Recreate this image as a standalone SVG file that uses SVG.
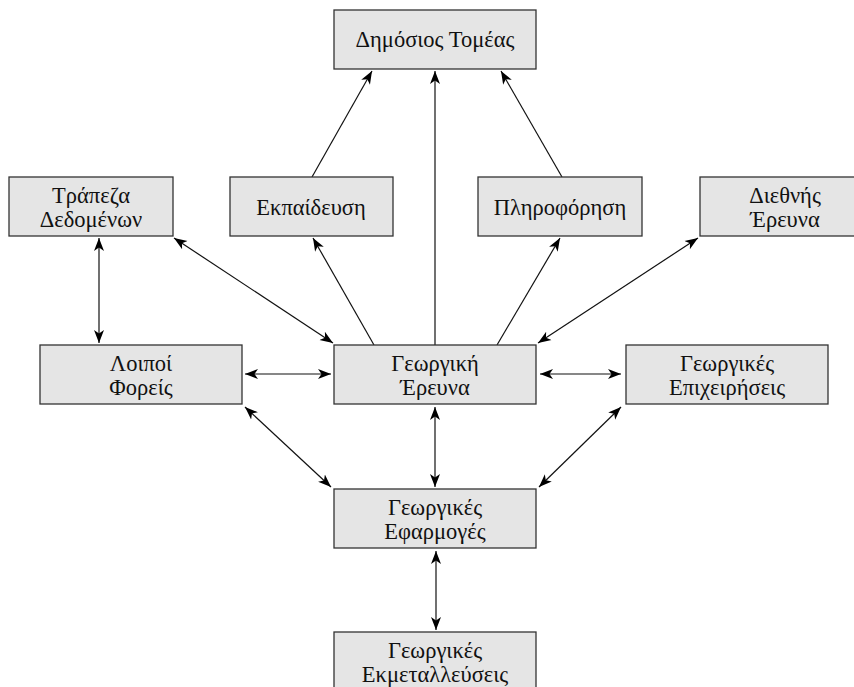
<svg xmlns="http://www.w3.org/2000/svg" width="854" height="687" viewBox="0 0 854 687">
<style>
.box{fill:#e5e5e5;stroke:#333;stroke-width:1.3}
.t{font-family:"Liberation Serif","DejaVu Serif",serif;font-size:22.5px;fill:#111;text-anchor:middle}
.c line{stroke:#111;stroke-width:1.2;fill:none}
.one{marker-end:url(#ah)}
.two{marker-end:url(#ah);marker-start:url(#ah)}
</style>
<defs>
<marker id="ah" viewBox="-13 -6 14 12" refX="0" refY="0" markerWidth="14" markerHeight="12" markerUnits="userSpaceOnUse" orient="auto-start-reverse">
<path d="M0,0 L-13,-5 L-9.5,0 L-13,5 Z" fill="#000"/>
</marker>
</defs>
<rect width="854" height="687" fill="#fff"/>
<g class="c">
<line class="one" x1="312" y1="177" x2="372" y2="71"/>
<line class="one" x1="435" y1="345" x2="435" y2="71"/>
<line class="one" x1="562" y1="177" x2="501" y2="71"/>
<line class="one" x1="374" y1="345" x2="313" y2="238"/>
<line class="one" x1="497" y1="345" x2="560" y2="238"/>
<line class="two" x1="333" y1="343" x2="174" y2="238"/>
<line class="two" x1="538" y1="343" x2="698" y2="238"/>
<line class="two" x1="99" y1="343" x2="99" y2="238"/>
<line class="two" x1="245" y1="374" x2="331" y2="374"/>
<line class="two" x1="540" y1="374" x2="621" y2="374"/>
<line class="two" x1="245" y1="407" x2="331" y2="487"/>
<line class="two" x1="621" y1="407" x2="539" y2="487"/>
<line class="two" x1="435" y1="407" x2="435" y2="487"/>
<line class="two" x1="436" y1="551" x2="436" y2="630"/>
</g>
<g id="dimosios"><rect class="box" x="334" y="10" width="202" height="59"/><text class="t" x="435" y="47">Δημόσιος Τομέας</text></g>
<g id="trapeza"><rect class="box" x="9" y="177" width="164" height="59"/><text class="t" x="91" y="203">Τράπεζα</text><text class="t" x="91" y="227">Δεδομένων</text></g>
<g id="ekpaideusi"><rect class="box" x="230" y="177" width="163" height="59"/><text class="t" x="311" y="215">Εκπαίδευση</text></g>
<g id="pliroforisi"><rect class="box" x="478" y="177" width="164" height="59"/><text class="t" x="560" y="215">Πληροφόρηση</text></g>
<g id="diethnis"><rect class="box" x="700" y="177" width="164" height="59"/><text class="t" x="785" y="203">Διεθνής</text><text class="t" x="785" y="227">Έρευνα</text></g>
<g id="loipoi"><rect class="box" x="40" y="345" width="202" height="59"/><text class="t" x="141" y="371">Λοιποί</text><text class="t" x="141" y="395">Φορείς</text></g>
<g id="ereuna"><rect class="box" x="334" y="345" width="202" height="59"/><text class="t" x="435" y="371">Γεωργική</text><text class="t" x="435" y="395">Έρευνα</text></g>
<g id="epixeiriseis"><rect class="box" x="626" y="345" width="202" height="59"/><text class="t" x="727" y="371">Γεωργικές</text><text class="t" x="727" y="395">Επιχειρήσεις</text></g>
<g id="efarmoges"><rect class="box" x="334" y="489" width="202" height="59"/><text class="t" x="435" y="515">Γεωργικές</text><text class="t" x="435" y="539">Εφαρμογές</text></g>
<g id="ekmetalleuseis"><rect class="box" x="334" y="632" width="202" height="59"/><text class="t" x="435" y="658">Γεωργικές</text><text class="t" x="435" y="682">Εκμεταλλεύσεις</text></g>
</svg>
